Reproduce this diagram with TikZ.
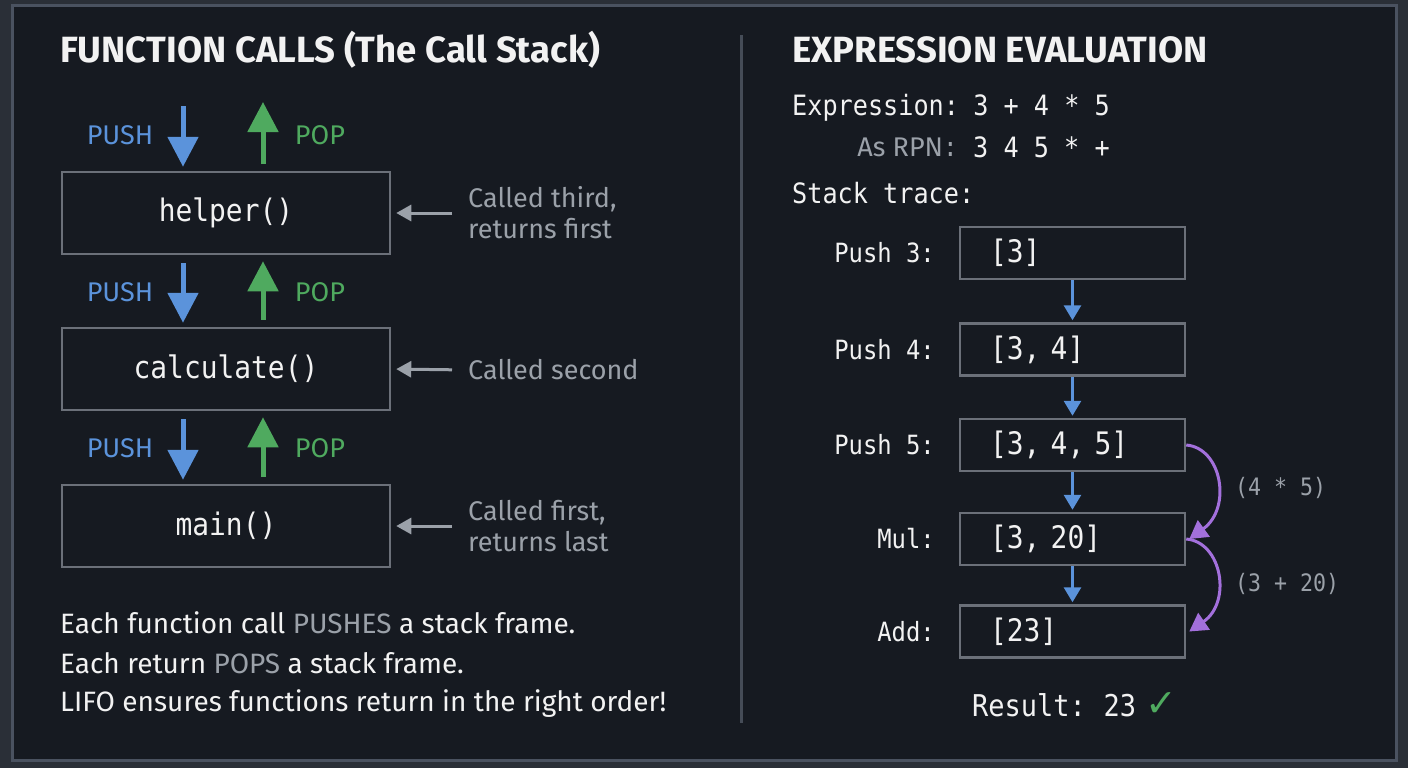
\documentclass[tikz,border=0pt]{standalone}
\usepackage{fontspec}
\setmainfont{Fira Sans}
\newfontfamily\monof{DejaVu Sans Mono}[FakeStretch=0.9]
\newfontfamily\symf{DejaVu Sans}
\usetikzlibrary{arrows.meta}
\definecolor{outerbg}{HTML}{2A2F37}
\definecolor{framec}{HTML}{4A5260}
\definecolor{panel}{HTML}{161A21}
\definecolor{boxline}{HTML}{6B7079}
\definecolor{txt}{HTML}{F2F2F2}
\definecolor{dim}{HTML}{9BA1A9}
\definecolor{pushc}{HTML}{5B93DB}
\definecolor{popc}{HTML}{4FAA5F}
\definecolor{purp}{HTML}{A370DC}
\definecolor{divc}{HTML}{454C57}
\newcommand{\fs}[1]{\fontsize{#1}{#1}\selectfont}
\tikzset{
  callbox/.style={draw=boxline, line width=2.5pt, fill=panel, minimum width=328pt, minimum height=82pt, inner sep=0pt, text=txt, font=\monof\fs{31}},
  stackbox/.style={draw=boxline, line width=2.5pt, fill=panel, text width=165pt, inner xsep=30pt, inner ysep=0pt, minimum height=52pt, align=left, text=txt, font=\monof\fs{31}},
  pushlbl/.style={text=pushc, font=\fs{27}, inner sep=0pt},
  poplbl/.style={text=popc, font=\fs{27}, inner sep=0pt},
  pusharr/.style={draw=pushc, line width=5pt, -{Triangle[width=30pt,length=30pt]}},
  poparr/.style={draw=popc, line width=5pt, -{Triangle[width=30pt,length=30pt]}},
  sidearr/.style={draw=dim, line width=3pt, -{Triangle[width=16pt,length=15pt]}},
  sidelbl/.style={text=dim, font=\fontsize{27}{31}\selectfont, align=left, inner sep=0pt, anchor=west},
  bodytxt/.style={text=txt, font=\fs{28}, inner sep=0pt, anchor=west},
  title/.style={text=txt, font=\bfseries\fs{36.5}, inner sep=0pt, anchor=west},
  monotxt/.style={text=txt, font=\monof\fs{28}, inner sep=0pt},
  steplbl/.style={text=txt, font=\monof\fs{26.5}, inner sep=0pt, anchor=east},
  smallarr/.style={draw=pushc, line width=3pt, -{Triangle[width=17pt,length=15pt]}},
  curvearr/.style={draw=purp, line width=3pt, -{Triangle[width=20pt,length=18pt]}},
  notelbl/.style={text=dim, font=\monof\fs{24}, inner sep=0pt, anchor=west},
}
\begin{document}
\begin{tikzpicture}[x=1pt,y=-1pt]
\useasboundingbox (0,0) rectangle (1408,768);
\fill[outerbg] (0,0) rectangle (1408,768);
\draw[framec, line width=3pt, fill=panel] (12,6) rectangle (1396,760);
\draw[divc, line width=3pt] (741,35) -- (741,723);

% ---------- left panel ----------
\node[title] (ltitle) at (60,50) {FUNCTION CALLS (The Call Stack)};

\node[callbox] (helper) at (226,213) {helper()};
\node[callbox] (calc) at (226,369) {calculate()};
\node[callbox] (mainf) at (226,526) {main()};

\coordinate (pt) at (183,106);
\coordinate (gt) at (263,102);
\draw[pusharr, shorten >=4pt] (pt) -- ([xshift=-43pt]helper.north);
\draw[poparr, shorten <=7pt] ([xshift=37pt]helper.north) -- (gt);
\draw[pusharr, shorten <=8pt, shorten >=4pt] ([xshift=-43pt]helper.south) -- ([xshift=-43pt]calc.north);
\draw[poparr, shorten <=7pt, shorten >=6pt] ([xshift=37pt]calc.north) -- ([xshift=37pt]helper.south);
\draw[pusharr, shorten <=8pt, shorten >=4pt] ([xshift=-43pt]calc.south) -- ([xshift=-43pt]mainf.north);
\draw[poparr, shorten <=7pt, shorten >=6pt] ([xshift=37pt]mainf.north) -- ([xshift=37pt]calc.south);

\node[pushlbl] (pu1) at (120,135) {PUSH};
\node[poplbl] (po1) at (320,135) {POP};
\node[pushlbl] (pu2) at (120,292) {PUSH};
\node[poplbl] (po2) at (320,292) {POP};
\node[pushlbl] (pu3) at (120,448) {PUSH};
\node[poplbl] (po3) at (320,448) {POP};

\node[sidelbl] (n1) at (468,213) {Called third,\\returns first};
\node[sidelbl] (n2) at (468,370) {Called second};
\node[sidelbl] (n3) at (468,526) {Called first,\\returns last};
\draw[sidearr, shorten <=16pt, shorten >=5pt] (n1.west) -- (helper.east);
\draw[sidearr, shorten <=16pt, shorten >=5pt] (n2.west) -- (calc.east);
\draw[sidearr, shorten <=16pt, shorten >=5pt] (n3.west) -- (mainf.east);

\node[bodytxt] (b1) at (60,623) {Each function call \textcolor{dim}{PUSHES} a stack frame.};
\node[bodytxt] (b2) at (60,663) {Each return \textcolor{dim}{POPS} a stack frame.};
\node[bodytxt] (b3) at (60,704) {LIFO ensures functions return in the right order!};

% ---------- right panel ----------
\node[title] (rtitle) at (792,50) {EXPRESSION EVALUATION};
\node[monotxt, anchor=west] (expr) at (792,108) {Expression:\hspace{-6pt} 3 + 4 * 5};
\node[text=dim, font=\fs{27}, inner sep=0pt, anchor=east] (rpnl) at (958,147) {As RPN\monof:};
\node[monotxt, anchor=west] (rpnv) at (973,147) {3 4 5 * +};
\node[monotxt, anchor=west] (trace) at (792,193) {Stack trace:};

\node[stackbox] (s1) at (1072.5,253) {[3]};
\node[stackbox] (s2) at (1072.5,349.5) {[3, 4]};
\node[stackbox] (s3) at (1072.5,445) {[3, 4, 5]};
\node[stackbox] (s4) at (1072.5,539) {[3, 20]};
\node[stackbox] (s5) at (1072.5,631.5) {[23]};

\node[steplbl] (l1) at (935,253) {Push 3:};
\node[steplbl] (l2) at (935,349.5) {Push 4:};
\node[steplbl] (l3) at (935,445) {Push 5:};
\node[steplbl] (l4) at (935,539) {Mul:};
\node[steplbl] (l5) at (935,631.5) {Add:};

\draw[smallarr, shorten >=2pt] (s1.south) -- (s2.north);
\draw[smallarr, shorten >=2pt] (s2.south) -- (s3.north);
\draw[smallarr, shorten >=2pt] (s3.south) -- (s4.north);
\draw[smallarr, shorten >=2pt] (s4.south) -- (s5.north);

\draw[curvearr] (s3.east) .. controls (1222,448) and (1232,508) .. ([xshift=3pt]s4.east);
\draw[curvearr] (s4.east) .. controls (1222,542) and (1232,602) .. ([xshift=3pt]s5.east);
\node[notelbl] (c1) at (1235,488) {(4 * 5)};
\node[notelbl] (c2) at (1235,584) {(3 + 20)};

\node[text=txt, font=\monof\fs{30}, inner sep=0pt, anchor=west] (res) at (972,705) {Result:\hspace{-4pt} 23};
\node[text=popc, font=\symf\fs{38}, inner sep=0pt, anchor=west] (chk) at (1145,705) {✓};
\end{tikzpicture}
\end{document}
